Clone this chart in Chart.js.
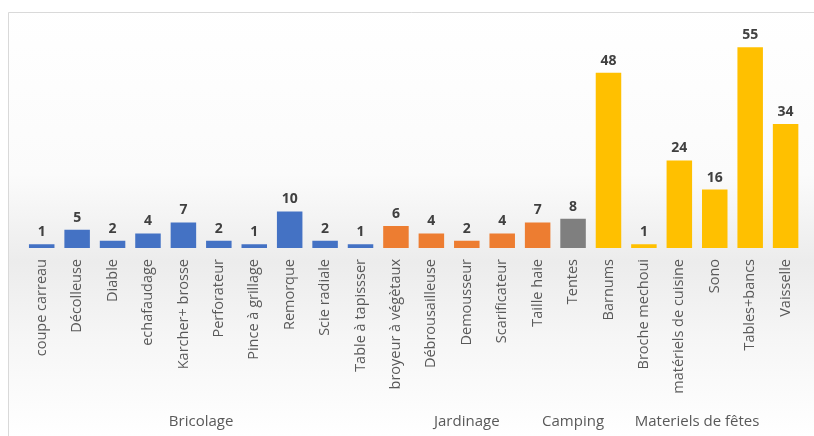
<!DOCTYPE html>
<html>
<head>
<meta charset="utf-8">
<script src="https://cdn.jsdelivr.net/npm/chart.js@4/dist/chart.umd.min.js"></script>
<style>
  html, body { margin: 0; padding: 0; background: #fff; }
  #wrap { position: absolute; left: 0; top: 0; width: 814px; height: 436px; }
</style>
</head>
<body>
<div id="wrap"><canvas id="chart" width="814" height="436"></canvas></div>
<script>
// data
const categories = [
  'coupe carreau', 'Décolleuse', 'Diable', 'echafaudage', 'Karcher+ brosse',
  'Perforateur', 'Pince à grillage', 'Remorque', 'Scie radiale', 'Table à tapissser',
  'broyeur à végètaux', 'Débrousailleuse', 'Demousseur', 'Scarificateur', 'Taille haie',
  'Tentes',
  'Barnums', 'Broche mechoui', 'matériels de cuisine', 'Sono', 'Tables+bancs', 'Vaisselle'
];
const values = [1, 5, 2, 4, 7, 2, 1, 10, 2, 1, 6, 4, 2, 4, 7, 8, 48, 1, 24, 16, 55, 34];
const groupNames = ['Bricolage', 'Jardinage', 'Camping', 'Materiels de fêtes'];
const groupSizes = [10, 5, 1, 6];
const groupColors = ['#4472C4', '#ED7D31', '#7F7F7F', '#FFC000'];

// colour per bar from its group
const barColors = [];
groupSizes.forEach((n, g) => { for (let i = 0; i < n; i++) barColors.push(groupColors[g]); });

const chartBack = {
  id: 'chartBack',
  beforeDraw(chart) {
    const ctx = chart.ctx;
    const h = chart.height;
    const grad = ctx.createLinearGradient(0, 0, 0, h);
    grad.addColorStop(0, '#ffffff');
    grad.addColorStop(0.40, '#fbfbfb');
    grad.addColorStop(0.60, '#ececec');
    grad.addColorStop(0.78, '#f6f6f6');
    grad.addColorStop(1, '#ffffff');
    ctx.save();
    ctx.fillStyle = grad;
    ctx.fillRect(8, 12, chart.width - 8, h - 12);
    // frame
    ctx.strokeStyle = '#d9d9d9';
    ctx.lineWidth = 1;
    ctx.beginPath();
    ctx.moveTo(8.5, h);
    ctx.lineTo(8.5, 12.5);
    ctx.lineTo(chart.width, 12.5);
    ctx.stroke();
    ctx.restore();
  }
};

const valueLabels = {
  id: 'valueLabels',
  afterDatasetsDraw(chart) {
    const ctx = chart.ctx;
    const meta = chart.getDatasetMeta(0);
    ctx.save();
    ctx.font = 'bold 14px "Open Sans", sans-serif';
    ctx.fillStyle = '#404040';
    ctx.textAlign = 'center';
    ctx.textBaseline = 'bottom';
    meta.data.forEach((bar, i) => {
      ctx.fillText(values[i], bar.x, bar.y - 5);
    });
    ctx.restore();
  }
};

const groupLabels = {
  id: 'groupLabels',
  afterDraw(chart) {
    const ctx = chart.ctx;
    const xs = chart.scales.x;
    ctx.save();
    ctx.font = '15px "Open Sans", sans-serif';
    ctx.fillStyle = '#595959';
    ctx.textAlign = 'center';
    ctx.textBaseline = 'middle';
    let start = 0;
    groupSizes.forEach((n, g) => {
      const x0 = xs.getPixelForValue(start);
      const x1 = xs.getPixelForValue(start + n - 1);
      ctx.fillText(groupNames[g], (x0 + x1) / 2, 422);
      start += n;
    });
    ctx.restore();
  }
};

new Chart(document.getElementById('chart'), {
  type: 'bar',
  data: {
    labels: categories,
    datasets: [{
      data: values,
      backgroundColor: barColors,
      borderWidth: 0,
      barPercentage: 0.72,
      categoryPercentage: 1.0
    }]
  },
  options: {
    responsive: false,
    animation: false,
    layout: { padding: { top: 29, left: 24, right: 0, bottom: 0 } },
    plugins: {
      legend: { display: false },
      tooltip: { enabled: false }
    },
    scales: {
      x: {
        grid: { display: false, drawTicks: false },
        border: { display: false },
        ticks: {
          minRotation: 90,
          maxRotation: 90,
          autoSkip: false,
          padding: 11,
          color: '#595959',
          font: { family: '"Open Sans", sans-serif', size: 14.5 }
        },
        afterFit(scale) { scale.height = 188; }
      },
      y: {
        display: false,
        min: 0,
        max: 60
      }
    }
  },
  plugins: [chartBack, valueLabels, groupLabels]
});
</script>
</body>
</html>
